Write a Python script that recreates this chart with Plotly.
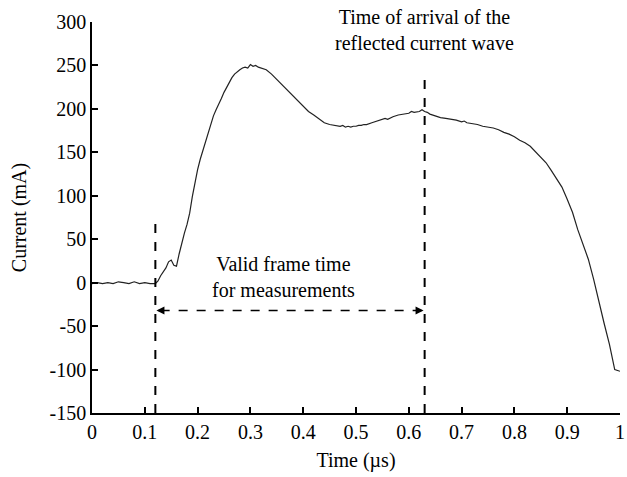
import plotly.graph_objects as go

# ---- data ----
time_us = [0.00, 0.01, 0.02, 0.03, 0.04, 0.05, 0.06, 0.07, 0.08, 0.09,
           0.10, 0.11, 0.12, 0.125, 0.13, 0.135, 0.14, 0.145, 0.15, 0.155,
           0.16, 0.165, 0.17, 0.175, 0.18, 0.185, 0.19, 0.195, 0.20, 0.205,
           0.21, 0.215, 0.22, 0.225, 0.23, 0.235, 0.24, 0.245, 0.25, 0.255,
           0.26, 0.265, 0.27, 0.275, 0.28, 0.285, 0.29, 0.295, 0.30, 0.305,
           0.31, 0.315, 0.32, 0.33, 0.34, 0.35, 0.36, 0.37, 0.38, 0.39,
           0.40, 0.41, 0.42, 0.43, 0.44, 0.45, 0.46, 0.465, 0.47, 0.475,
           0.48, 0.485, 0.49, 0.495, 0.50, 0.505, 0.51, 0.515, 0.52, 0.53,
           0.54, 0.55, 0.555, 0.56, 0.565, 0.57, 0.58, 0.59, 0.60, 0.605,
           0.61, 0.62, 0.625, 0.63, 0.635, 0.64, 0.65, 0.66, 0.67, 0.68,
           0.69, 0.70, 0.705, 0.71, 0.72, 0.73, 0.74, 0.75, 0.76, 0.77,
           0.78, 0.79, 0.80, 0.81, 0.82, 0.83, 0.84, 0.85, 0.86, 0.87,
           0.88, 0.89, 0.90, 0.91, 0.92, 0.93, 0.94, 0.95, 0.96, 0.97,
           0.98, 0.99, 1.00]
current_mA = [-1, 0, -1, 0, -1, 1, 0, -1, 1, -1,
              0, -1, -1, 2, 8, 12, 17, 24, 26, 20,
              19, 33, 46, 57, 67, 80, 99, 116, 130, 142,
              152, 163, 174, 184, 192, 199, 205, 212, 219, 225,
              231, 236, 240, 243, 245, 247, 248, 247, 251, 249,
              250, 248, 247, 245, 240, 234, 228, 222, 216, 210,
              203, 197, 193, 188, 184, 182, 181, 181, 180, 181,
              179, 180, 179, 180, 180, 181, 181, 182, 182, 184,
              186, 188, 189, 188, 190, 191, 193, 194, 195, 197,
              196, 197, 199, 197, 196, 194, 192, 190, 189, 188,
              187, 185, 186, 184, 183, 182, 180, 179, 178, 176,
              173, 171, 168, 164, 161, 157, 151, 145, 138, 129,
              119, 110, 96, 81, 61, 43, 27, 4, -23, -47,
              -71, -100, -102]

x_ticks = [0, 0.1, 0.2, 0.3, 0.4, 0.5, 0.6, 0.7, 0.8, 0.9, 1]
y_ticks = [-150, -100, -50, 0, 50, 100, 150, 200, 250, 300]

FONT = "Liberation Serif"
FS = 20

fig = go.Figure()
fig.add_trace(go.Scatter(x=time_us, y=current_mA, mode="lines",
                         line=dict(color="#222222", width=1.2),
                         showlegend=False, hoverinfo="skip"))

# dashed vertical markers
fig.add_shape(type="line", x0=0.12, x1=0.12, y0=-150, y1=70,
              line=dict(color="black", width=2, dash="dash"))
fig.add_shape(type="line", x0=0.63, x1=0.63, y0=-150, y1=243,
              line=dict(color="black", width=2, dash="dash"))
# dashed horizontal double arrow
fig.add_shape(type="line", x0=0.13, x1=0.62, y0=-32, y1=-32,
              line=dict(color="black", width=1.6, dash="dash"))
for tip, tail in [(0.122, 0.137), (0.628, 0.613)]:
    fig.add_annotation(x=tip, y=-32, ax=tail, ay=-32, xref="x", yref="y",
                       axref="x", ayref="y", showarrow=True, arrowhead=2,
                       arrowsize=1, arrowwidth=1.6, arrowcolor="black",
                       standoff=0, startstandoff=0, text="")

fig.add_annotation(x=0.362, y=7, xref="x", yref="y", showarrow=False,
                   text="Valid frame time<br>for measurements",
                   font=dict(family=FONT, size=FS, color="black"), align="center")
fig.add_annotation(x=0.629, y=291, xref="x", yref="y", showarrow=False,
                   text="Time of arrival of the<br>reflected current wave",
                   font=dict(family=FONT, size=FS, color="black"), align="center")

axis_common = dict(showgrid=False, zeroline=False, showline=True,
                   linecolor="black", linewidth=1.5, ticks="inside",
                   ticklen=6, tickwidth=1.5, tickcolor="black",
                   automargin=False,
                   tickfont=dict(family=FONT, size=FS, color="black"))

fig.update_layout(
    width=627, height=477,
    margin=dict(l=92, r=7, t=22, b=64),
    plot_bgcolor="white", paper_bgcolor="white",
    xaxis=dict(range=[0, 1], tickvals=x_ticks,
               ticktext=[f"{v:g}" for v in x_ticks],
               title=dict(text="Time (µs)", standoff=11,
                          font=dict(family=FONT, size=FS, color="black")),
               **axis_common),
    yaxis=dict(range=[-150, 300], tickvals=y_ticks,
               ticktext=[str(v) for v in y_ticks],
               title=dict(text="Current (mA)", standoff=18,
                          font=dict(family=FONT, size=FS, color="black")),
               **axis_common),
)

fig.write_html("out.html")
